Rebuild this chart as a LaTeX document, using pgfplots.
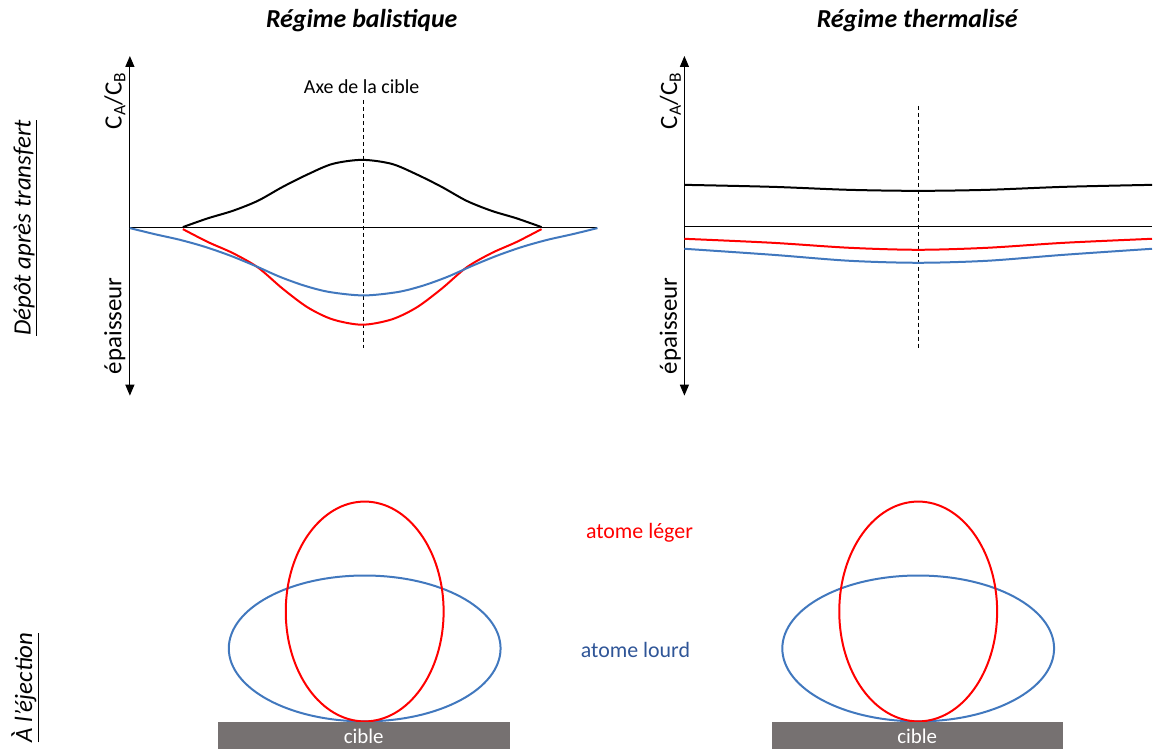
\documentclass[border=0pt]{standalone}
\usepackage{fontspec}
\setmainfont{Carlito}
\usepackage{pgfplots}
\pgfplotsset{compat=1.18}
\usetikzlibrary{arrows.meta}
\definecolor{cblue}{RGB}{65,120,190}
\definecolor{cdblue}{RGB}{47,85,151}
\definecolor{cgray}{RGB}{118,113,113}
\begin{document}
\begin{tikzpicture}
\begin{axis}[width=1153bp,height=751bp,scale only axis,
  xmin=0,xmax=1153,ymin=0,ymax=751,y dir=reverse,hide axis,clip=false]
\path (rel axis cs:0,0) rectangle (rel axis cs:1,1);
% titles
\node[font=\fontsize{26}{30}\selectfont\bfseries\itshape] at (axis cs:362,21) {Régime balistique};
\node[font=\fontsize{26}{30}\selectfont\bfseries\itshape] at (axis cs:918,21) {Régime thermalisé};
\node[rotate=90,font=\fontsize{25}{30}\selectfont\itshape] at (axis cs:25,228) {\underline{Dépôt après transfert}};
\node[rotate=90,font=\fontsize{25}{30}\selectfont\itshape] at (axis cs:25,688) {\underline{À l'éjection}};
% axes arrows
\draw[line width=1.2bp,{Triangle[length=11bp,width=9bp]}-{Triangle[length=11bp,width=9bp]}] (axis cs:130,396) -- (axis cs:130,56);
\draw[line width=1.2bp,{Triangle[length=11bp,width=9bp]}-{Triangle[length=11bp,width=9bp]}] (axis cs:685,396) -- (axis cs:685,56);
\node[rotate=90,font=\fontsize{25}{30}\selectfont] at (axis cs:115,101) {C\textsubscript{A}/C\textsubscript{B}};
\node[rotate=90,font=\fontsize{25}{30}\selectfont] at (axis cs:115,326) {épaisseur};
\node[rotate=90,font=\fontsize{25}{30}\selectfont] at (axis cs:671,101) {C\textsubscript{A}/C\textsubscript{B}};
\node[rotate=90,font=\fontsize{25}{30}\selectfont] at (axis cs:671,326) {épaisseur};
\node[font=\fontsize{20}{24}\selectfont] at (axis cs:362,87) {Axe de la cible};
% baselines
\addplot[black,line width=1.2bp] coordinates {(130,227.5) (598,227.5)};
\addplot[black,line width=1.2bp] coordinates {(685,227) (1153,227)};
% dashed target axes
\addplot[black,line width=0.9bp,dash pattern=on 4bp off 3bp] coordinates {(363.5,100) (363.5,348)};
\addplot[black,line width=0.9bp,dash pattern=on 4bp off 3bp] coordinates {(919,106) (919,348)};
% left curves
\addplot[black,line width=2bp,smooth,tension=0.5] coordinates {(183,227.3) (208,218.5) (233,211) (258,201) (283,187) (308,174.5) (333,164) (362.5,160) (392,164) (417,174.5) (442,187) (467,201) (492,211) (517,218.5) (542,227.3)};
\addplot[red,line width=2bp,smooth,tension=0.5] coordinates {(183,229.3) (208,242.2) (233,253.3) (258,267.6) (283,289) (308,307.7) (333,319.7) (362.5,325) (392,319.7) (417,307.7) (442,289) (467,267.6) (492,253.3) (517,242.2) (542,229.3)};
\addplot[cblue,line width=2bp,smooth,tension=0.5] coordinates {(130,228.3) (155,234.4) (180,240) (205,247) (230,255.7) (255,265.9) (280,277) (305,286) (330,292.3) (364,295.7) (398,292.3) (423,286) (448,277) (473,265.9) (498,255.7) (523,247) (548,240) (573,234.4) (598,228.3)};
% right curves
\addplot[black,line width=2bp,smooth] coordinates {(685,185) (773,187) (850,190) (919,191) (988,190) (1065,187) (1153,185)};
\addplot[red,line width=2bp,smooth] coordinates {(685,239) (773,243) (850,248) (919,250) (988,248) (1065,243) (1153,239)};
\addplot[cblue,line width=2bp,smooth] coordinates {(685,249) (773,255) (850,261) (919,263) (988,261) (1065,255) (1153,249)};
% ejection
\draw[cblue,line width=2bp] (axis cs:365,649) ellipse [x radius=136, y radius=73];
\draw[red,line width=2bp] (axis cs:365,612) ellipse [x radius=79, y radius=110];
\draw[cblue,line width=2bp] (axis cs:919,649) ellipse [x radius=136, y radius=73];
\draw[red,line width=2bp] (axis cs:919,612) ellipse [x radius=79, y radius=110];
\fill[cgray] (axis cs:218,723) rectangle (axis cs:510,750);
\fill[cgray] (axis cs:773,723) rectangle (axis cs:1064,750);
\node[white,font=\fontsize{21}{24}\selectfont] at (axis cs:364,737) {cible};
\node[white,font=\fontsize{21}{24}\selectfont] at (axis cs:918,737) {cible};
\node[red,font=\fontsize{22}{26}\selectfont] at (axis cs:640,533) {atome léger};
\node[cdblue,font=\fontsize{22}{26}\selectfont] at (axis cs:636,651) {atome lourd};
\end{axis}
\end{tikzpicture}
\end{document}
